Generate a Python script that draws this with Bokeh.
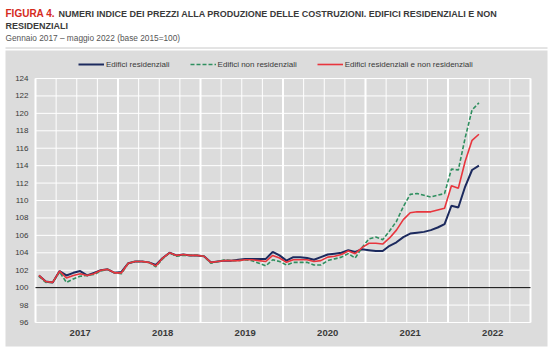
from bokeh.plotting import figure
from bokeh.models import Range1d, Legend, LegendItem, ColumnDataSource
from bokeh.embed import file_html
from bokeh.resources import INLINE
from bokeh.core.properties import value

# ---------------- data ----------------
years = ["2017", "2018", "2019", "2020", "2021", "2022"]
month_labels = [f"{y}-{m:02d}" for y in years for m in range(1, 13)][:65]  # Jan 2017 .. May 2022

residenziali = [
    101.4, 100.7, 100.6, 101.9, 101.4, 101.7, 101.9, 101.4, 101.7, 102.0, 102.1, 101.7,
    101.8, 102.8, 103.0, 103.0, 102.9, 102.6, 103.4, 104.0, 103.7, 103.8, 103.7, 103.7,
    103.6, 102.9, 103.0, 103.1, 103.1, 103.2, 103.3, 103.3, 103.3, 103.3, 104.1, 103.7,
    103.1, 103.5, 103.5, 103.4, 103.2, 103.5, 103.8, 103.9, 104.0, 104.3, 104.1, 104.4,
    104.3, 104.2, 104.2, 104.8, 105.2, 105.8, 106.2, 106.3, 106.4, 106.6, 106.9, 107.3,
    109.4, 109.2, 111.6, 113.5, 114.0,
]
non_residenziali = [
    101.3, 100.6, 100.6, 101.8, 100.6, 101.0, 101.3, 101.4, 101.5, 101.9, 102.1, 101.7,
    101.6, 102.8, 103.0, 103.0, 102.9, 102.4, 103.3, 104.0, 103.6, 103.7, 103.7, 103.7,
    103.6, 102.8, 103.0, 103.2, 103.1, 103.1, 103.2, 103.1, 102.8, 102.5, 103.2, 103.0,
    102.6, 102.9, 102.9, 102.9, 102.6, 102.6, 103.1, 103.3, 103.5, 103.9, 103.4, 104.6,
    105.6, 105.8, 105.5, 106.5, 107.6, 109.3, 110.7, 110.8, 110.6, 110.4, 110.6, 110.8,
    113.6, 113.5, 117.2, 120.4, 121.2,
]
totale = [
    101.4, 100.7, 100.6, 101.9, 101.1, 101.4, 101.6, 101.4, 101.6, 102.0, 102.1, 101.7,
    101.7, 102.8, 103.0, 103.0, 102.9, 102.5, 103.4, 104.0, 103.7, 103.8, 103.7, 103.7,
    103.6, 102.9, 103.0, 103.1, 103.1, 103.1, 103.2, 103.2, 103.1, 103.0, 103.7, 103.4,
    102.9, 103.2, 103.2, 103.2, 103.0, 103.1, 103.5, 103.6, 103.8, 104.2, 103.9, 104.6,
    105.1, 105.1, 105.0, 105.7, 106.6, 107.8, 108.6, 108.7, 108.7, 108.7, 108.9, 109.1,
    111.7, 111.4, 114.5, 116.9, 117.6,
]
y_ticks = list(range(96, 125, 2))
y_tick_labels = [str(v) for v in y_ticks]

series_names = ["Edifici residenziali", "Edifici non residenziali",
                "Edifici residenziali e non residenziali"]

# ---------------- style ----------------
FONT = "Liberation Sans"
GREY = "#dcdcdc"
NAVY = "#1c2a5e"
GREEN = "#2f8f5f"
RED = "#e8353d"
TXT = "#3a3a3a"

W, H = 553, 352
# plot area (page pixels) and its data extent
PL, PR, PT, PB = 35, 530, 78, 322
X0, X1 = -0.5, 71.5            # month index extent (Jan 2017 .. Dec 2022)
Y0, Y1 = y_ticks[0], y_ticks[-1]
kx = (PR - PL) / (X1 - X0)
ky = (PB - PT) / (Y1 - Y0)


def X(px):   # page pixel -> x data
    return X0 + (px - PL) / kx


def Y(py):   # page pixel -> y data
    return Y1 - (py - PT) / ky


x_idx = list(range(len(month_labels)))
src = ColumnDataSource(dict(x=x_idx, res=residenziali, nres=non_residenziali,
                            tot=totale, month=month_labels))

p = figure(width=W, height=H, x_range=Range1d(X(0), X(W)), y_range=Range1d(Y(H), Y(0)),
           output_backend="svg", toolbar_location=None, min_border=0,
           x_axis_location=None, y_axis_location=None,
           background_fill_color="white", border_fill_color="white",
           outline_line_color=None)
p.grid.visible = False

# grey panel
p.quad(left=[X(5)], right=[X(547)], top=[Y(50)], bottom=[Y(346)],
       fill_color=GREY, line_color=None)

# grid lines
quarters = [X0 + 3 * k for k in range(25)]
year_bounds = [X0 + 12 * k for k in range(7)]
p.segment(x0=[X0] * len(y_ticks), x1=[X1] * len(y_ticks), y0=y_ticks, y1=y_ticks,
          line_color="white", line_width=1)
p.segment(x0=quarters, x1=quarters, y0=[Y0] * len(quarters), y1=[Y1] * len(quarters),
          line_color="white", line_width=1)
p.segment(x0=year_bounds, x1=year_bounds, y0=[Y0] * len(year_bounds),
          y1=[Y1] * len(year_bounds), line_color="white", line_width=2)

# tick labels
p.text(x=[X(28)] * len(y_ticks), y=y_ticks, text=y_tick_labels, text_font=value(FONT),
       text_font_size="8px", text_color=TXT, text_align="right", text_baseline="middle")
p.text(x=[6 + 12 * k for k in range(len(years))], y=[Y(332)] * len(years), text=years,
       text_font=value(FONT), text_font_size="9.5px", text_font_style="bold",
       text_color=TXT, text_align="center", text_baseline="middle")

# reference line at 100
p.segment(x0=[X0], x1=[X1], y0=[100], y1=[100], line_color="black", line_width=1)

# series
r1 = p.line("x", "res", source=src, line_color=NAVY, line_width=2)
r2 = p.line("x", "nres", source=src, line_color=GREEN, line_width=1.6, line_dash="4 2")
r3 = p.line("x", "tot", source=src, line_color=RED, line_width=1.6)

legend = Legend(items=[LegendItem(label=series_names[0], renderers=[r1]),
                       LegendItem(label=series_names[1], renderers=[r2]),
                       LegendItem(label=series_names[2], renderers=[r3])],
                orientation="horizontal", location=(78, H - 70),
                glyph_width=26, glyph_height=12, label_height=12, label_standoff=2,
                spacing=20, padding=2, margin=0,
                background_fill_alpha=0, border_line_color=None,
                label_text_font=FONT, label_text_font_size="8px",
                label_text_color=TXT)
p.add_layout(legend)


# titles
def ttext(px, py, s, size, color, style="normal"):
    p.text(x=[X(px)], y=[Y(py)], text=[s], text_font=value(FONT), text_font_style=style,
           text_font_size=size, text_color=color, text_baseline="middle",
           text_align="left")


ttext(5, 13, "FIGURA 4.", "10px", "#d52b1e", "bold")
ttext(58, 13, "NUMERI INDICE DEI PREZZI ALLA PRODUZIONE DELLE COSTRUZIONI. EDIFICI RESIDENZIALI E NON",
      "9px", TXT, "bold")
ttext(5, 25, "RESIDENZIALI", "9px", TXT, "bold")
ttext(5, 37, "Gennaio 2017 \u2013 maggio 2022 (base 2015=100)", "8.3px", "#555555")
p.segment(x0=[X(5)], x1=[X(547)], y0=[Y(47.5)], y1=[Y(47.5)], line_color="#c8c8c8",
          line_width=1)

open("out.html", "w").write(file_html(p, INLINE))
